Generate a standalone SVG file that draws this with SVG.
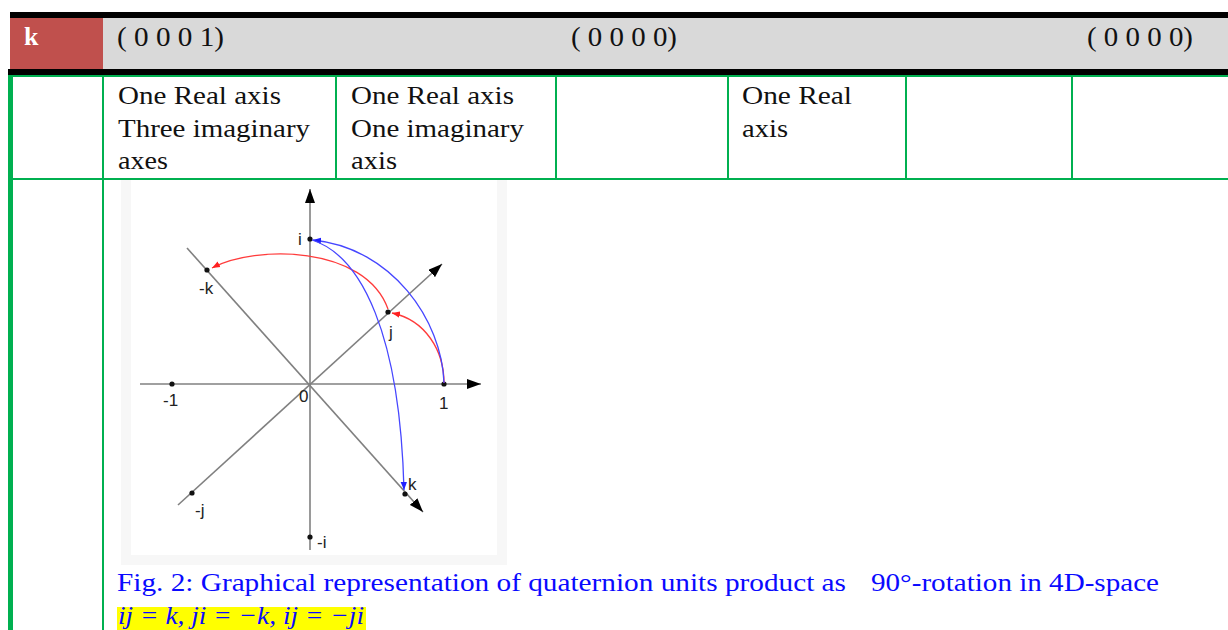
<svg xmlns="http://www.w3.org/2000/svg" width="1228" height="630" viewBox="0 0 1228 630">
<style>
.serif{font-family:"Liberation Serif","Times New Roman",Times,serif}
.hdr{font-size:28px;fill:#111}
.body{font-size:26px;fill:#111}
.grn{stroke:#00b050;stroke-width:2;fill:none}
.ax{stroke:#808080;stroke-width:1.6;fill:none}
.cap{font-size:26px;fill:#0a0aff}
.lbl{font-family:"Liberation Sans",Arial,Helvetica,sans-serif;font-size:17px;fill:#222}
.red{stroke:#ff3b3b;stroke-width:1.3;fill:none}
.blue{stroke:#4646ff;stroke-width:1.3;fill:none}
</style>
<defs>
<marker id="ah" viewBox="0 0 14 10" refX="14" refY="5" markerWidth="14" markerHeight="10" markerUnits="userSpaceOnUse" orient="auto"><path d="M0,0 L14,5 L0,10 z" fill="#000"/></marker>
<marker id="ar" viewBox="0 0 10 10" refX="10" refY="5" markerWidth="8" markerHeight="8" markerUnits="userSpaceOnUse" orient="auto"><path d="M0,1 L10,5 L0,9 z" fill="#ff2020"/></marker>
<marker id="ab" viewBox="0 0 10 10" refX="10" refY="5" markerWidth="8" markerHeight="8" markerUnits="userSpaceOnUse" orient="auto"><path d="M0,1 L10,5 L0,9 z" fill="#2020ff"/></marker>
</defs>
<rect width="1228" height="630" fill="#fff"/>
<g id="header">
<rect x="10" y="12" width="1218" height="6" fill="#000"/>
<rect x="10" y="18" width="93" height="51" fill="#c0504d"/>
<rect x="103" y="18" width="1125" height="51" fill="#d9d9d9"/>
<rect x="8" y="69" width="1220" height="6" fill="#000"/>
<text class="serif" x="24" y="45" font-size="26" font-weight="bold" fill="#fff">k</text>
<text class="serif hdr" x="117" y="46" textLength="107" lengthAdjust="spacingAndGlyphs">( 0 0 0 1)</text>
<text class="serif hdr" x="571" y="46" textLength="106" lengthAdjust="spacingAndGlyphs">( 0 0 0 0)</text>
<text class="serif hdr" x="1087" y="46" textLength="106" lengthAdjust="spacingAndGlyphs">( 0 0 0 0)</text>
</g>
<g id="grid">
<rect x="8" y="75" width="5" height="555" fill="#00b050"/>
<line class="grn" x1="8" y1="76" x2="1228" y2="76"/>
<line class="grn" x1="8" y1="179" x2="1228" y2="179"/>
<line class="grn" x1="103" y1="76" x2="103" y2="630"/>
<line class="grn" x1="336" y1="76" x2="336" y2="179"/>
<line class="grn" x1="556" y1="76" x2="556" y2="179"/>
<line class="grn" x1="728" y1="76" x2="728" y2="179"/>
<line class="grn" x1="906" y1="76" x2="906" y2="179"/>
<line class="grn" x1="1072" y1="76" x2="1072" y2="179"/>
</g>
<g id="cell-1">
<text class="serif body" x="118" y="104" textLength="163" lengthAdjust="spacingAndGlyphs">One Real axis</text>
<text class="serif body" x="118" y="137" textLength="192" lengthAdjust="spacingAndGlyphs">Three imaginary</text>
<text class="serif body" x="118" y="169" textLength="50" lengthAdjust="spacingAndGlyphs">axes</text>
</g>
<g id="cell-2">
<text class="serif body" x="351" y="104" textLength="163" lengthAdjust="spacingAndGlyphs">One Real axis</text>
<text class="serif body" x="351" y="137" textLength="173" lengthAdjust="spacingAndGlyphs">One imaginary</text>
<text class="serif body" x="351" y="169" textLength="46" lengthAdjust="spacingAndGlyphs">axis</text>
</g>
<g id="cell-4">
<text class="serif body" x="742" y="104" textLength="110" lengthAdjust="spacingAndGlyphs">One Real</text>
<text class="serif body" x="742" y="137" textLength="46" lengthAdjust="spacingAndGlyphs">axis</text>
</g>
<g id="figure">
<rect x="121" y="180" width="386" height="385" fill="#f7f7f7"/>
<rect x="131" y="180" width="366" height="375" fill="#fff"/>
<g id="axes">
<line class="ax" x1="140" y1="384" x2="481" y2="384" marker-end="url(#ah)"/>
<line class="ax" x1="310" y1="550" x2="310" y2="189" marker-end="url(#ah)"/>
<line class="ax" x1="178" y1="505" x2="442" y2="264" marker-end="url(#ah)"/>
<line class="ax" x1="187" y1="248" x2="423" y2="512" marker-end="url(#ah)"/>
</g>
<g id="points" fill="#111">
<circle cx="172" cy="384" r="2.6"/>
<circle cx="444" cy="384" r="2.6"/>
<circle cx="310" cy="239" r="2.6"/>
<circle cx="310" cy="537" r="2.6"/>
<circle cx="388" cy="312" r="2.6"/>
<circle cx="192" cy="493" r="2.6"/>
<circle cx="207" cy="270" r="2.6"/>
<circle cx="405" cy="494" r="2.6"/>
</g>
<g id="arcs">
<path class="red" d="M444,383 C444,350 425,320 392,313" marker-end="url(#ar)"/>
<path class="red" d="M388,309 C365,245 255,245 212,268" marker-end="url(#ar)"/>
<path class="blue" d="M444,383 C442,320 392,248 313,240" marker-end="url(#ab)"/>
<path class="blue" d="M312,240 C362,256 400,335 404,490" marker-end="url(#ab)"/>
</g>
<g id="labels">
<text class="lbl" x="163" y="406">-1</text>
<text class="lbl" x="439" y="409">1</text>
<text class="lbl" x="299" y="402">0</text>
<text class="lbl" x="298" y="245">i</text>
<text class="lbl" x="317" y="548">-i</text>
<text class="lbl" x="389" y="338">j</text>
<text class="lbl" x="195" y="516">-j</text>
<text class="lbl" x="199" y="294">-k</text>
<text class="lbl" x="408" y="490">k</text>
</g>
</g>
<g id="caption">
<text class="serif cap" x="117" y="591" textLength="729" lengthAdjust="spacingAndGlyphs">Fig. 2: Graphical representation of quaternion units product as</text>
<text class="serif cap" x="871" y="591" textLength="288" lengthAdjust="spacingAndGlyphs">90°-rotation in 4D-space</text>
<rect x="117" y="607" width="249" height="23" fill="#ffff00"/>
<text class="serif cap" x="118" y="624" font-style="italic" textLength="246" lengthAdjust="spacingAndGlyphs">ij = k, ji = −k, ij = −ji</text>
</g>
</svg>
